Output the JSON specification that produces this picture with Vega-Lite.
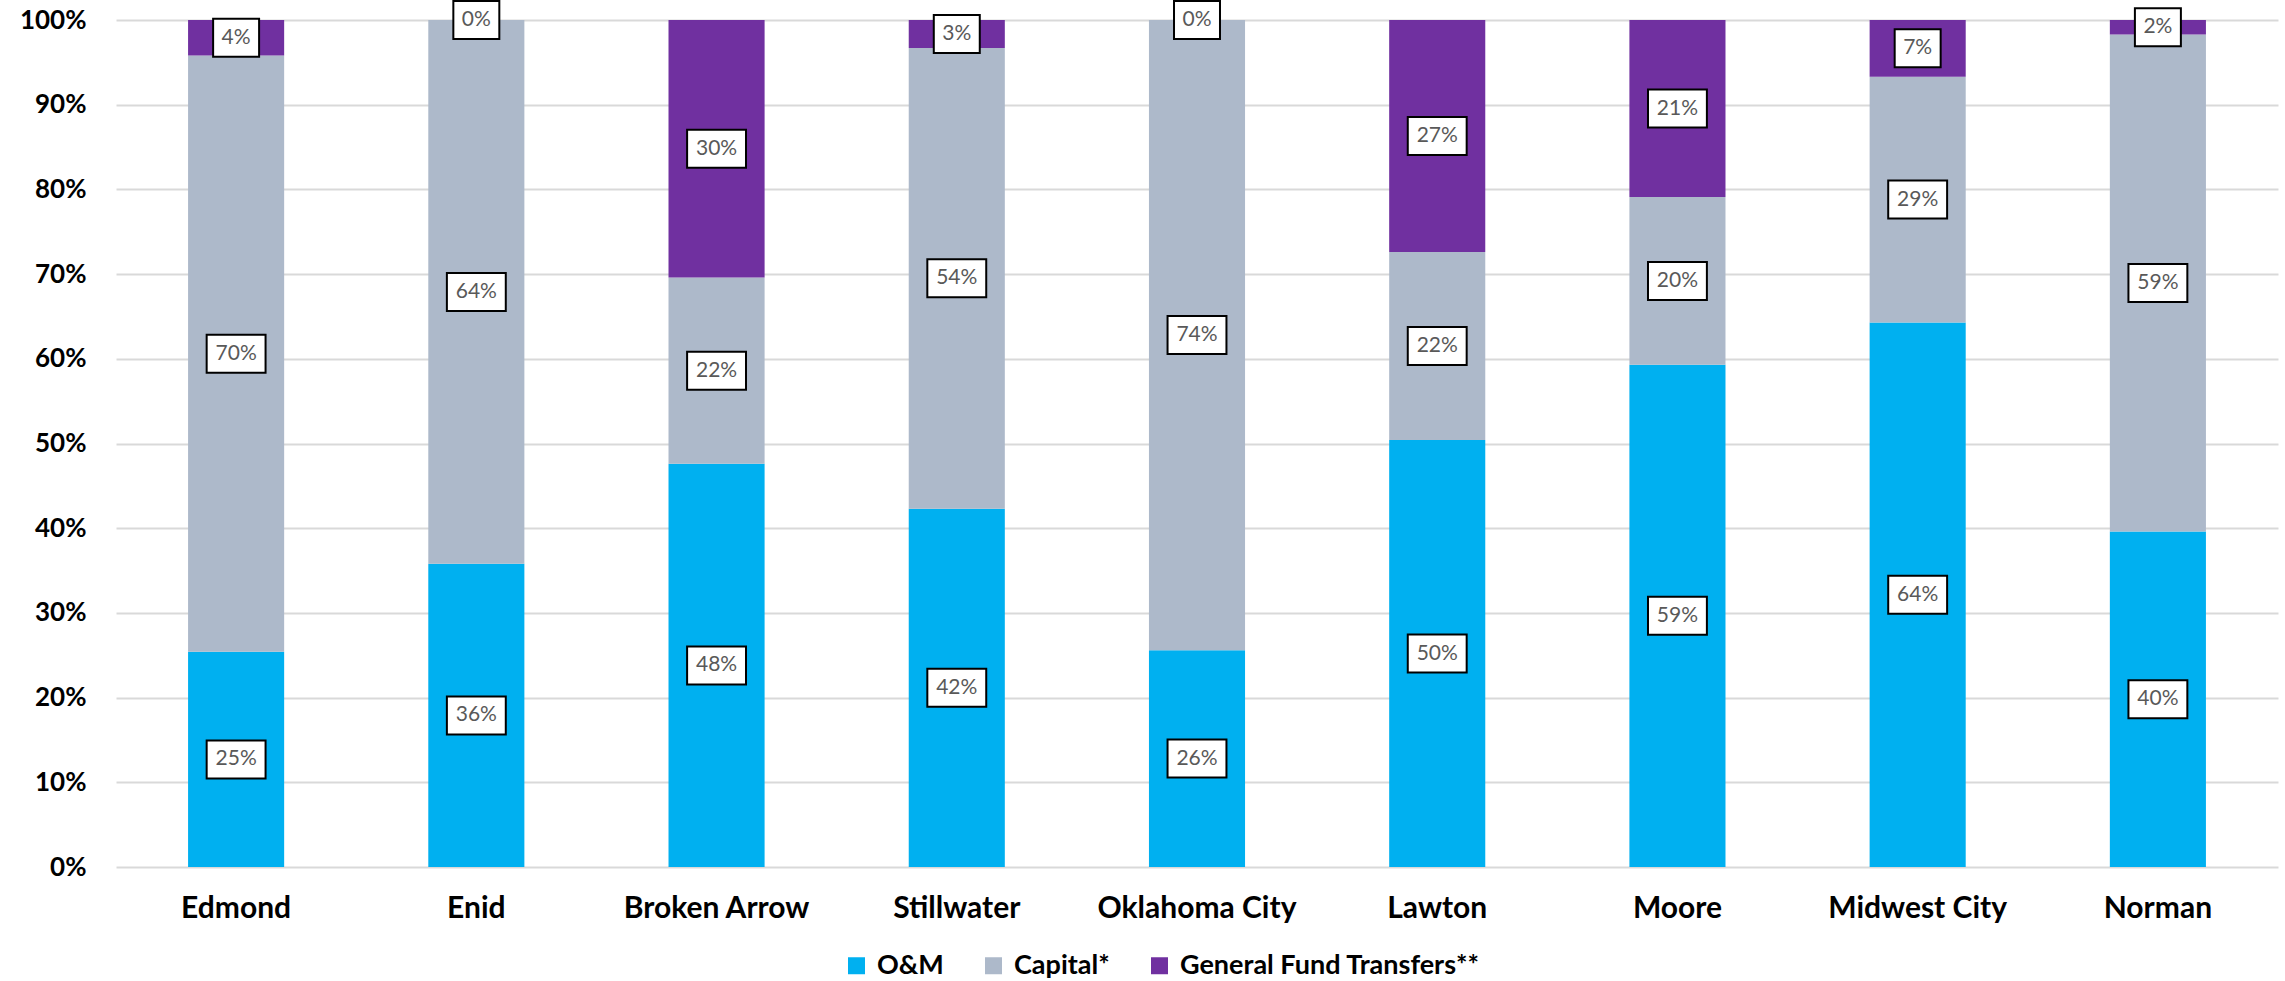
{
  "$schema": "https://vega.github.io/schema/vega-lite/v6.json",
  "width": 2162,
  "height": 847,
  "autosize": {"type": "none"},
  "padding": {"left": 116, "top": 20, "right": 7, "bottom": 114},
  "background": "white",
  "config": {
    "view": {"stroke": null},
    "font": "Lato",
    "axis": {
      "labelFont": "Lato",
      "labelFontWeight": "bold",
      "labelColor": "#000000",
      "title": null,
      "ticks": false,
      "domain": false
    },
    "legend": {
      "labelFont": "Lato",
      "labelFontWeight": "bold",
      "labelColor": "#000000"
    }
  },
  "data": {
    "values": [
      {"city": "Edmond", "type": "O&M", "k": 1, "v": 0.254},
      {"city": "Edmond", "type": "Capital*", "k": 2, "v": 0.704},
      {"city": "Edmond", "type": "General Fund Transfers**", "k": 3, "v": 0.042},
      {"city": "Enid", "type": "O&M", "k": 1, "v": 0.358},
      {"city": "Enid", "type": "Capital*", "k": 2, "v": 0.642},
      {"city": "Enid", "type": "General Fund Transfers**", "k": 3, "v": 0.0},
      {"city": "Broken Arrow", "type": "O&M", "k": 1, "v": 0.476},
      {"city": "Broken Arrow", "type": "Capital*", "k": 2, "v": 0.220},
      {"city": "Broken Arrow", "type": "General Fund Transfers**", "k": 3, "v": 0.304},
      {"city": "Stillwater", "type": "O&M", "k": 1, "v": 0.423},
      {"city": "Stillwater", "type": "Capital*", "k": 2, "v": 0.544},
      {"city": "Stillwater", "type": "General Fund Transfers**", "k": 3, "v": 0.033},
      {"city": "Oklahoma City", "type": "O&M", "k": 1, "v": 0.256},
      {"city": "Oklahoma City", "type": "Capital*", "k": 2, "v": 0.744},
      {"city": "Oklahoma City", "type": "General Fund Transfers**", "k": 3, "v": 0.0},
      {"city": "Lawton", "type": "O&M", "k": 1, "v": 0.504},
      {"city": "Lawton", "type": "Capital*", "k": 2, "v": 0.222},
      {"city": "Lawton", "type": "General Fund Transfers**", "k": 3, "v": 0.274},
      {"city": "Moore", "type": "O&M", "k": 1, "v": 0.593},
      {"city": "Moore", "type": "Capital*", "k": 2, "v": 0.198},
      {"city": "Moore", "type": "General Fund Transfers**", "k": 3, "v": 0.209},
      {"city": "Midwest City", "type": "O&M", "k": 1, "v": 0.643},
      {"city": "Midwest City", "type": "Capital*", "k": 2, "v": 0.290},
      {"city": "Midwest City", "type": "General Fund Transfers**", "k": 3, "v": 0.067},
      {"city": "Norman", "type": "O&M", "k": 1, "v": 0.396},
      {"city": "Norman", "type": "Capital*", "k": 2, "v": 0.587},
      {"city": "Norman", "type": "General Fund Transfers**", "k": 3, "v": 0.017}
    ]
  },
  "encoding": {
    "x": {
      "field": "city",
      "type": "nominal",
      "sort": null,
      "scale": {"paddingInner": 0.6, "paddingOuter": 0.3},
      "axis": {
        "labelAngle": 0,
        "labelFontSize": 30,
        "labelPadding": 26,
        "labelLimit": 400,
        "grid": false
      }
    },
    "order": {"field": "k", "type": "quantitative", "sort": "ascending"}
  },
  "layer": [
    {
      "mark": {"type": "bar"},
      "encoding": {
        "y": {
          "field": "v",
          "type": "quantitative",
          "stack": "zero",
          "scale": {"domain": [0, 1], "nice": false},
          "axis": {
            "values": [0, 0.1, 0.2, 0.3, 0.4, 0.5, 0.6, 0.7, 0.8, 0.9, 1],
            "format": ".0%",
            "labelFontSize": 26,
            "labelPadding": 30,
            "gridColor": "#d9d9d9",
            "gridWidth": 2
          }
        },
        "color": {
          "field": "type",
          "type": "nominal",
          "scale": {
            "domain": ["O&M", "Capital*", "General Fund Transfers**"],
            "range": ["#00B0F0", "#ADB9CA", "#7030A0"]
          },
          "legend": {
            "title": null,
            "orient": "none",
            "direction": "horizontal",
            "legendX": 727,
            "legendY": 932,
            "symbolType": "square",
            "symbolSize": 289,
            "symbolStrokeWidth": 0,
            "labelFontSize": 27,
            "labelOffset": 7,
            "labelLimit": 500,
            "columnPadding": 36
          }
        }
      }
    },
    {
      "mark": {
        "type": "point",
        "filled": true,
        "fill": "white",
        "stroke": "black",
        "strokeWidth": 2,
        "opacity": 1,
        "size": 1444
      },
      "encoding": {
        "y": {"field": "v", "type": "quantitative", "stack": "zero", "bandPosition": 0.5},
        "shape": {
          "condition": {"test": "datum.v < 0.095", "value": "M-1.21,-1H1.21V1H-1.21Z"},
          "value": "M-1.55,-1H1.55V1H-1.55Z"
        }
      }
    },
    {
      "mark": {
        "type": "text",
        "font": "Lato",
        "fontSize": 21,
        "color": "#595959",
        "baseline": "middle",
        "align": "center"
      },
      "encoding": {
        "y": {"field": "v", "type": "quantitative", "stack": "zero", "bandPosition": 0.5},
        "text": {"field": "v", "type": "quantitative", "format": ".0%"}
      }
    }
  ]
}
